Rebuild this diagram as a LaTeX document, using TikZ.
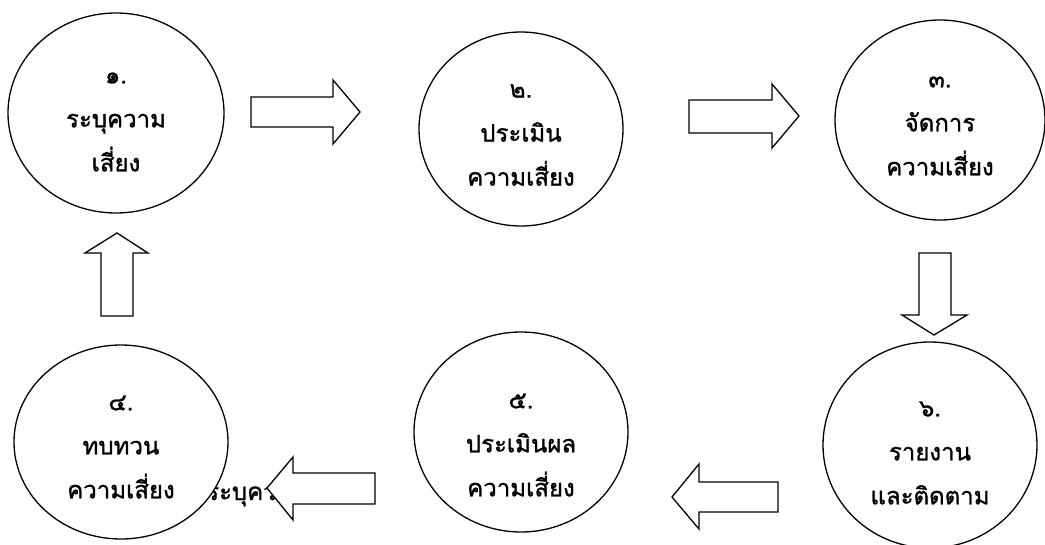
\documentclass[tikz,border=0pt]{standalone}
\usepackage{fontspec}
\newfontfamily\thaifont[Script=Thai, FakeBold=1.2]{Loma}
\usetikzlibrary{shapes.geometric}
\tikzset{
  stage/.style={ellipse, draw=black, fill=white, line width=1.3pt, inner sep=0pt},
  stagelabel/.style={font=\thaifont\fontsize{24}{44}\selectfont, align=center, inner sep=0pt},
  blockarrow/.style={draw=black, fill=white, line width=1.3pt, line join=miter},
}
\begin{document}
\begin{tikzpicture}[x=1pt,y=-1pt]
\useasboundingbox (0,0) rectangle (1045,544);
% hidden text behind circle 4 and arrow
\node[font=\thaifont\fontsize{24}{44}\selectfont, anchor=base west, inner sep=0pt] (hid) at (206,500) {ระบุความเสี่ยง};
% circles
\node[stage, minimum width=216pt, minimum height=200pt] (c1) at (116,113) {};
\node[stage, minimum width=204pt, minimum height=194pt] (c2) at (521,129) {};
\node[stage, minimum width=210pt, minimum height=200pt] (c3) at (940,120) {};
\node[stage, minimum width=214pt, minimum height=194pt] (c4) at (121,442) {};
\node[stage, minimum width=214pt, minimum height=200pt] (c5) at (521,432) {};
\node[stage, minimum width=214pt, minimum height=206pt] (c6) at (930,445) {};
% block arrows
\draw[blockarrow] (251,97) -- (333,97) -- (333,80) -- (360,112) -- (333,144) -- (333,127) -- (251,127) -- cycle;
\draw[blockarrow] (689,100) -- (772,100) -- (772,84) -- (799,116) -- (772,148) -- (772,133) -- (689,133) -- cycle;
\draw[blockarrow] (919,253) -- (951,253) -- (951,315) -- (967,315) -- (934,335) -- (902,315) -- (919,315) -- cycle;
\draw[blockarrow] (778,482) -- (699,482) -- (699,464) -- (672,497) -- (699,529) -- (699,512) -- (778,512) -- cycle;
\draw[blockarrow] (375,473) -- (293,473) -- (293,457) -- (267,488) -- (293,520) -- (293,504) -- (375,504) -- cycle;
\draw[blockarrow] (101,316) -- (101,253) -- (85,253) -- (117,233) -- (148,253) -- (133,253) -- (133,316) -- cycle;
% labels
\node[stagelabel] (l1) at (116,122) {๑.\\ระบุความ\\เสี่ยง};
\node[stagelabel] (l2) at (521,135) {๒.\\ประเมิน\\ความเสี่ยง};
\node[stagelabel] (l3) at (940,126) {๓.\\จัดการ\\ความเสี่ยง};
\node[stagelabel] (l4) at (121,447) {๔.\\ทบทวน\\ความเสี่ยง};
\node[stagelabel] (l5) at (521,445) {๕.\\ประเมินผล\\ความเสี่ยง};
\node[stagelabel] (l6) at (930,453) {๖.\\รายงาน\\และติดตาม};
\end{tikzpicture}
\end{document}
